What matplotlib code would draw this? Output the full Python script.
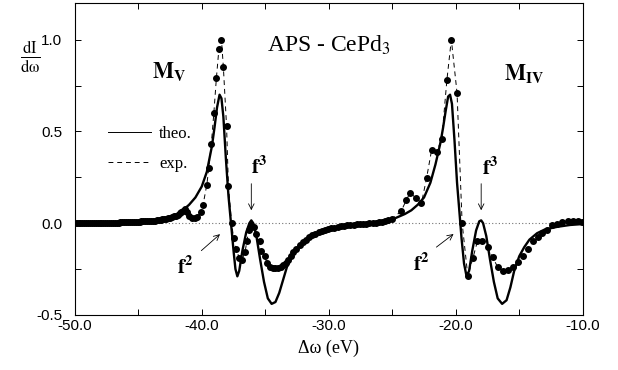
import numpy as np
import matplotlib
matplotlib.use("Agg")
import matplotlib.pyplot as plt
from matplotlib.lines import Line2D
from matplotlib.ticker import MultipleLocator

# theoretical curve (solid)
theo_x = [-50.0, -48.0, -46.0, -45.0, -44.0, -43.5, -43.0, -42.5, -42.0, -41.5,
          -41.0, -40.5, -40.0, -39.6, -39.2, -39.0, -38.8, -38.6, -38.45, -38.3,
          -38.1, -37.9, -37.7, -37.5, -37.35, -37.2, -37.05, -36.8, -36.5, -36.25,
          -36.1, -35.95, -35.7, -35.4, -35.1, -34.8, -34.5, -34.2, -33.9, -33.6,
          -33.3, -33.0, -32.5, -32.0, -31.0, -30.0, -29.0, -28.0, -27.0, -26.0,
          -25.0, -24.5, -24.0, -23.5, -23.0, -22.5, -22.0, -21.6, -21.2, -21.0,
          -20.8, -20.6, -20.45, -20.3, -20.1, -19.9, -19.7, -19.55, -19.35, -19.15,
          -18.95, -18.7, -18.4, -18.15, -18.0, -17.85, -17.6, -17.3, -17.0, -16.7,
          -16.35, -16.0, -15.7, -15.4, -15.0, -14.6, -14.2, -13.6, -13.0, -12.0,
          -11.0, -10.0]
theo_y = [0.0, 0.0, 0.003, 0.006, 0.01, 0.015, 0.02, 0.03, 0.045, 0.07,
          0.10, 0.14, 0.20, 0.28, 0.42, 0.52, 0.63, 0.70, 0.68, 0.58,
          0.35, 0.15, 0.0, -0.15, -0.25, -0.29, -0.26, -0.15, -0.05, 0.0,
          0.015, 0.0, -0.07, -0.20, -0.32, -0.41, -0.44, -0.43, -0.38, -0.31,
          -0.24, -0.19, -0.14, -0.105, -0.065, -0.042, -0.025, -0.014, -0.007, -0.002,
          0.02, 0.035, 0.05, 0.07, 0.10, 0.14, 0.22, 0.32, 0.44, 0.52,
          0.61, 0.69, 0.70, 0.65, 0.45, 0.22, 0.05, -0.08, -0.22, -0.29,
          -0.26, -0.15, -0.04, 0.01, 0.015, 0.0, -0.07, -0.20, -0.32, -0.41,
          -0.44, -0.42, -0.35, -0.26, -0.18, -0.13, -0.09, -0.055, -0.035, -0.02,
          -0.01, -0.005]

# experimental points (dots + dashed)
exp_x = [-50.0, -49.85, -49.7, -49.55, -49.4, -49.25, -49.1, -48.95, -48.8, -48.65,
         -48.5, -48.35, -48.2, -48.05, -47.9, -47.75, -47.6, -47.45, -47.3, -47.15,
         -47.0, -46.85, -46.7, -46.55, -46.4, -46.25, -46.1, -45.95, -45.8, -45.65,
         -45.5, -45.35, -45.2, -45.05, -44.9, -44.75, -44.6, -44.45, -44.3, -44.15,
         -44.0, -43.85, -43.7, -43.55, -43.4, -43.25, -43.1, -42.95, -42.8, -42.65,
         -42.5, -42.35, -42.2, -42.05, -41.9, -41.75, -41.6, -41.45, -41.3, -41.15,
         -41.0, -40.8, -40.55,
         -40.35, -40.1, -39.9, -39.6, -39.45, -39.25, -39.05, -38.85, -38.65, -38.45,
         -38.3, -38.05, -37.9, -37.65, -37.5, -37.3, -37.05, -36.85, -36.6, -36.45,
         -36.3, -36.1, -35.9, -35.7, -35.45, -35.3, -35.05, -34.85, -34.65, -34.4,
         -34.2, -34.0, -33.8, -33.6, -33.4, -33.2, -33.0, -32.8, -32.55, -32.3,
         -32.05, -31.8, -31.55, -31.3, -31.05, -30.8, -30.55, -30.3, -30.05, -29.8,
         -29.55, -29.3, -29.05, -28.8, -28.55, -28.3, -28.05, -27.8, -27.55, -27.3,
         -27.05, -26.8, -26.55, -26.3, -26.05, -25.8, -25.55, -25.3, -25.0, -24.3,
         -23.9, -23.6, -23.1, -22.7, -22.3, -21.9, -21.5, -21.1, -20.7, -20.35,
         -19.9, -19.5, -19.05, -18.65, -18.3, -17.9, -17.5, -17.1, -16.7, -16.3,
         -15.9, -15.5, -15.1, -14.7, -14.3, -13.9, -13.55, -13.2, -12.8, -12.4,
         -12.0, -11.6, -11.2, -10.8, -10.4, -10.05]
exp_y = [0.0, 0.0, 0.0, 0.0, 0.0, 0.0, 0.0, 0.0, 0.0, 0.0,
         0.0, 0.0, 0.0, 0.0, 0.001, 0.001, 0.002, 0.002, 0.002, 0.002,
         0.003, 0.003, 0.003, 0.003, 0.004, 0.004, 0.004, 0.005, 0.005, 0.005,
         0.006, 0.006, 0.007, 0.007, 0.008, 0.009, 0.009, 0.01, 0.011, 0.011,
         0.012, 0.013, 0.014, 0.015, 0.017, 0.018, 0.02, 0.022, 0.024, 0.027,
         0.03, 0.033, 0.037, 0.041, 0.046, 0.053, 0.06, 0.068, 0.075, 0.06,
         0.04, 0.03, 0.03,
         0.035, 0.06, 0.10, 0.21, 0.30, 0.43, 0.60, 0.79, 0.95, 1.0,
         0.85, 0.53, 0.20, 0.0, -0.08, -0.14, -0.19, -0.20, -0.16, -0.10,
         -0.04, -0.01, -0.02, -0.06, -0.10, -0.15, -0.18, -0.22, -0.24, -0.245,
         -0.245, -0.245, -0.24, -0.23, -0.215, -0.20, -0.18, -0.16, -0.14, -0.12,
         -0.105, -0.09, -0.077, -0.066, -0.057, -0.05, -0.043, -0.037, -0.032, -0.028,
         -0.024, -0.02, -0.017, -0.014, -0.012, -0.01, -0.008, -0.006, -0.005, -0.004,
         -0.003, -0.002, 0.0, 0.002, 0.004, 0.007, 0.01, 0.015, 0.025, 0.065,
         0.125, 0.165, 0.135, 0.11, 0.245, 0.40, 0.39, 0.46, 0.78, 1.0,
         0.71, 0.0, -0.29, -0.19, -0.10, -0.10, -0.13, -0.185, -0.24, -0.26,
         -0.255, -0.24, -0.21, -0.18, -0.14, -0.10, -0.075, -0.055, -0.04, -0.01,
         -0.005, 0.005, 0.01, 0.01, 0.01, 0.005]

xticks = [-50.0, -40.0, -30.0, -20.0, -10.0]
yticks = [-0.5, 0.0, 0.5, 1.0]

serif = "Liberation Serif"
plt.rcParams["font.family"] = "Liberation Sans"
plt.rcParams["mathtext.fontset"] = "stix"

fig = plt.figure(figsize=(6.18, 3.70), dpi=100)
ax = fig.add_axes([0.121, 0.149, 0.822, 0.843])

ax.axhline(0, color="0.45", lw=0.8, ls=(0, (1, 2)), zorder=1)
ax.plot(exp_x, exp_y, color="black", lw=0.7, ls=(0, (5, 4)), zorder=2)
ax.plot(exp_x, exp_y, "o", color="black", ms=4.0, zorder=3)
ax.plot(theo_x, theo_y, color="black", lw=1.7, zorder=4)

ax.set_xlim(-50, -10)
ax.set_ylim(-0.5, 1.2)
ax.set_xticks(xticks)
ax.set_xticklabels([f"{v:.1f}" for v in xticks])
ax.set_yticks(yticks)
ax.set_yticklabels([f"{v:.1f}" for v in yticks])
ax.xaxis.set_minor_locator(MultipleLocator(5))
ax.yaxis.set_minor_locator(MultipleLocator(0.25))
ax.tick_params(which="both", direction="in", top=True, right=True, length=4, width=0.7)
ax.tick_params(axis="x", labelsize=11, pad=3)
ax.tick_params(axis="y", labelsize=11, pad=9)
for s in ax.spines.values():
    s.set_linewidth(0.8)

ax.set_xlabel("Δω (eV)", family=serif, fontsize=13, labelpad=5)
fig.text(0.049, 0.845, r"$\frac{\mathrm{dI}}{\mathrm{d\omega}}$", fontsize=17,
         ha="center", va="center")

ax.text(-30.0, 0.97, "APS - CePd$_3$", family=serif, fontsize=17, ha="center", va="center")
ax.text(-42.6, 0.82, r"$\mathbf{M_V}$", fontsize=16, ha="center", va="center")
ax.text(-14.6, 0.81, r"$\mathbf{M_{IV}}$", fontsize=16, ha="center", va="center")

arrow = dict(arrowstyle="->", color="black", lw=0.6)
for tx, ty, ax0, ay0, ax1, ay1 in [(-35.5, 0.31, -36.1, 0.23, -36.1, 0.055),
                                   (-17.3, 0.30, -18.0, 0.23, -18.0, 0.055)]:
    ax.text(tx, ty, r"$\mathbf{f^3}$", fontsize=15, ha="center", va="center")
    ax.annotate("", xy=(ax1, ay1), xytext=(ax0, ay0), arrowprops=arrow)
for tx, ty, ax0, ay0, ax1, ay1 in [(-41.3, -0.24, -40.2, -0.16, -38.4, -0.05),
                                   (-22.7, -0.22, -21.7, -0.14, -20.0, -0.05)]:
    ax.text(tx, ty, r"$\mathbf{f^2}$", fontsize=15, ha="center", va="center")
    ax.annotate("", xy=(ax1, ay1), xytext=(ax0, ay0), arrowprops=arrow)

handles = [Line2D([], [], color="black", lw=0.7),
           Line2D([], [], color="black", lw=0.7, ls=(0, (5, 4)))]
ax.legend(handles, ["theo.", "exp."], loc="upper left", bbox_to_anchor=(0.035, 0.655),
          frameon=False, handlelength=2.6, handletextpad=0.5, labelspacing=0.85,
          prop={"family": serif, "size": 12})

fig.savefig("out.png", dpi=100)
